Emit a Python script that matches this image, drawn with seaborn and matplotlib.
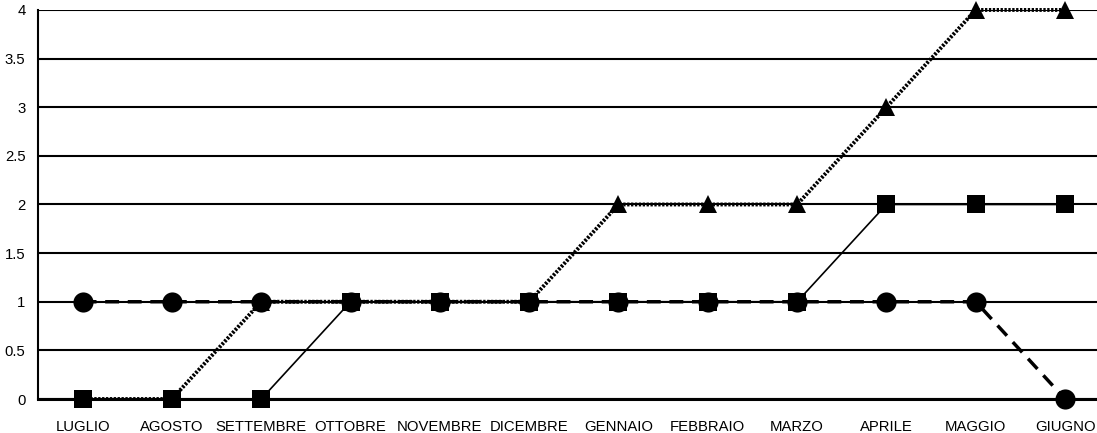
import pandas as pd
import numpy as np
import matplotlib.pyplot as plt
import seaborn as sns

mesi = ['LUGLIO', 'AGOSTO', 'SETTEMBRE', 'OTTOBRE', 'NOVEMBRE', 'DICEMBRE',
        'GENNAIO', 'FEBBRAIO', 'MARZO', 'APRILE', 'MAGGIO', 'GIUGNO']
serie_triangoli = [0, 0, 1, 1, 1, 1, 2, 2, 2, 3, 4, 4]
serie_cerchi = [1, 1, 1, 1, 1, 1, 1, 1, 1, 1, 1, 0]
serie_quadrati = [0, 0, 0, 1, 1, 1, 1, 1, 1, 2, 2, 2]
y_ticks = [0, 0.5, 1, 1.5, 2, 2.5, 3, 3.5, 4]
y_labels = ['0', '0.5', '1', '1.5', '2', '2.5', '3', '3.5', '4']

sns.set_style("white")
plt.rcParams['font.family'] = ['Liberation Sans', 'DejaVu Sans']

fig = plt.figure(figsize=(10.97, 4.33), dpi=100)
ax = fig.add_axes([0.0346, 0.0785, 0.977, 0.8985])

df = pd.DataFrame({'mese': mesi, 'tri': serie_triangoli,
                   'cer': serie_cerchi, 'qua': serie_quadrati})

sns.lineplot(data=df, x='mese', y='tri', ax=ax, color='black', lw=2.8,
             linestyle=(0, (0.6, 0.4)), marker='^', markersize=13,
             markeredgewidth=0, zorder=3, clip_on=False)
sns.lineplot(data=df, x='mese', y='cer', ax=ax, color='black', lw=2.5,
             linestyle=(0, (4, 2.5)), marker='o', markersize=14.5,
             markeredgewidth=0, zorder=4, clip_on=False)
sns.lineplot(data=df, x='mese', y='qua', ax=ax, color='black', lw=1.2,
             linestyle='-', marker='s', markersize=12.5,
             markeredgewidth=0, zorder=5, clip_on=False)

ax.set_xlim(-0.5, 11.5)
ax.set_ylim(0, 4)
ax.set_yticks(y_ticks)
ax.set_yticklabels(y_labels)
ax.yaxis.grid(True, color='black', lw=1.5)
ax.set_axisbelow(True)
ax.set_xlabel('')
ax.set_ylabel('')
ax.tick_params(axis='both', length=0, labelsize=10.7, colors='black')
ax.tick_params(axis='x', pad=15)
ax.tick_params(axis='y', pad=9)
for s in ['top', 'right']:
    ax.spines[s].set_visible(False)
ax.spines['left'].set_color('black')
ax.spines['left'].set_linewidth(1.5)
ax.spines['bottom'].set_color('black')
ax.spines['bottom'].set_linewidth(2.2)

fig.savefig('out.png', dpi=100)
